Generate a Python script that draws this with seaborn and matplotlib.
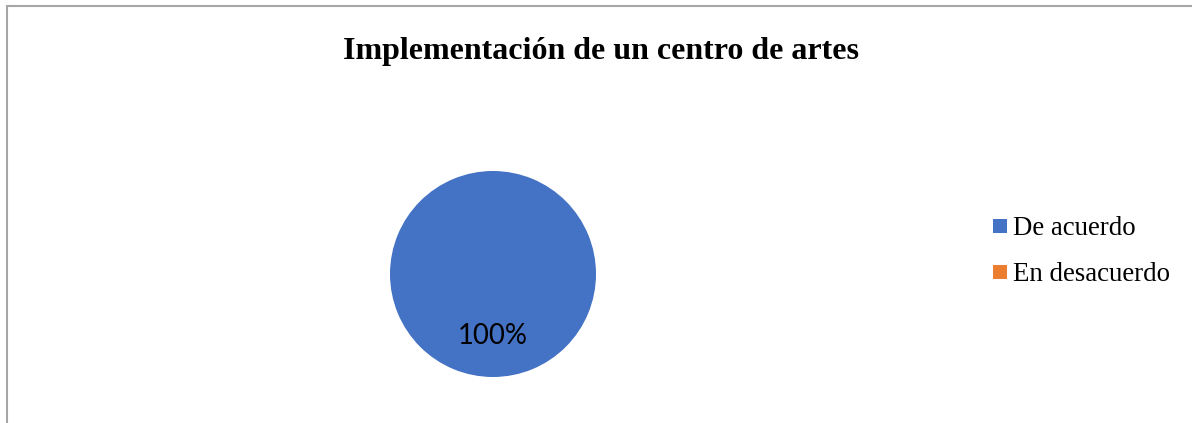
import matplotlib

matplotlib.use("Agg")
import matplotlib.pyplot as plt
import seaborn as sns
from matplotlib.lines import Line2D
from matplotlib.patches import Rectangle

categories = ["De acuerdo", "En desacuerdo"]
values = [100, 0]
colors = ["#4472C4", "#ED7D31"]
title = "Implementación de un centro de artes"

sns.set_theme(style="white")
plt.rcParams["font.family"] = ["Liberation Serif", "DejaVu Serif"]
plt.rcParams["text.color"] = "black"

fig = plt.figure(figsize=(11.92, 4.23), dpi=100)
fig.patch.set_facecolor("white")

# chart frame (only top and left edges are visible in the crop)
fig.patches.append(
    Rectangle(
        (6.5 / 1192, -0.1),
        1.2,
        1.1 - 6.5 / 423,
        transform=fig.transFigure,
        fill=False,
        edgecolor="#A6A6A6",
        linewidth=1.5,
        zorder=0,
    )
)

ax = fig.add_axes([390 / 1192, 1 - 377 / 423, 206 / 1192, 206 / 423])


def label_pct(p):
    return f"{p:.0f}%" if p > 0 else ""


wedges, texts, autotexts = ax.pie(
    values,
    colors=colors,
    startangle=90,
    counterclock=False,
    autopct=label_pct,
    pctdistance=0.6,
    radius=1,
    wedgeprops={"linewidth": 0},
    textprops={"family": "Lato", "fontsize": 19.8, "color": "black"},
)
ax.set_xlim(-1, 1)
ax.set_ylim(-1, 1)
ax.set_aspect("equal")
ax.axis("off")

fig.text(
    601 / 1192,
    1 - 51 / 423,
    title,
    ha="center",
    va="center",
    fontsize=23,
    fontweight="bold",
    color="black",
)

handles = [
    Line2D([], [], linestyle="none", marker="s", markersize=10,
           markerfacecolor=c, markeredgewidth=0)
    for c in colors
]
fig.legend(
    handles,
    categories,
    loc="center left",
    bbox_to_anchor=(993 / 1192, 1 - 251.5 / 423),
    frameon=False,
    fontsize=19.4,
    handlelength=0.55,
    handletextpad=0.2,
    labelspacing=0.78,
    borderaxespad=0,
    borderpad=0,
    labelcolor="black",
)

fig.savefig("out.png", dpi=100, facecolor="white")
